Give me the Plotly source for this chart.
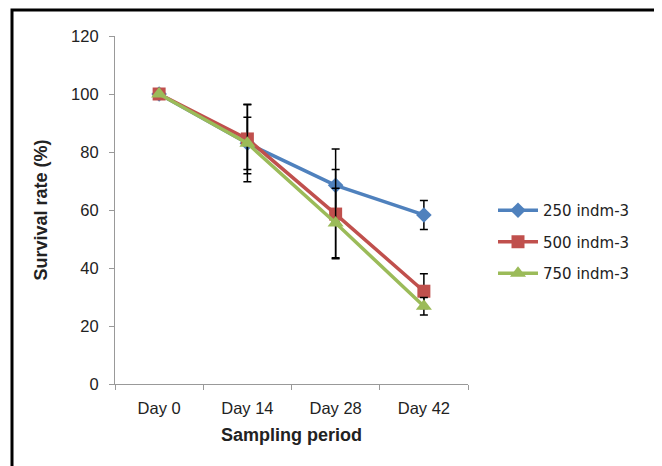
import plotly.graph_objects as go

categories = ["Day 0", "Day 14", "Day 28", "Day 42"]
names = ["250 indm-3", "500 indm-3", "750 indm-3"]
s250 = [100, 83, 68.5, 58.3]
s500 = [100, 84.5, 58.6, 32]
s750 = [100, 83, 55.5, 26.8]
e250 = [0, 9, 12.5, 5]
e500 = [0, 12, 15.4, 6]
e750 = [0, 13.3, 12, 3]
colors = ["#4F81BD", "#C0504D", "#9BBB59"]
symbols = ["diamond", "square", "triangle-up"]
sizes = [12, 13, 14]

font_main = "Liberation Sans Narrow, Liberation Sans, Arial"

L, T, R, B = 107, 28, 460, 376  # plot area in figure px
W = R - L
H = B - T

fig = go.Figure()
for i, (vals, errs) in enumerate([(s250, e250), (s500, e500), (s750, e750)]):
    fig.add_trace(go.Scatter(
        x=categories, y=vals, name=names[i], mode="lines+markers",
        legendgroup=f"g{i}",
        line=dict(color=colors[i], width=3.5),
        marker=dict(symbol=symbols[i], size=sizes[i], color=colors[i]),
        error_y=dict(type="data", array=errs, visible=True, color="black",
                     thickness=1.5, width=4),
    ))

fig.update_layout(
    width=662, height=466,
    margin=dict(l=L, r=662 - R, t=T, b=466 - B),
    paper_bgcolor="white", plot_bgcolor="white",
    font=dict(family=font_main, size=16.5, color="#222"),
    legend=dict(x=(485 - L) / W, y=(B - 234) / H, yanchor="middle", xanchor="left",
                font=dict(family="DejaVu Sans, Liberation Sans", size=15, color="#222"),
                tracegroupgap=9, itemwidth=40, bgcolor="rgba(0,0,0,0)"),
    showlegend=True,
)
fig.update_xaxes(
    type="category", range=[-0.5, 3.5], showline=True, linecolor="#999",
    linewidth=1.2, ticks="outside", tickson="boundaries", ticklen=5,
    tickcolor="#999", showgrid=False, zeroline=False, ticklabelstandoff=9,
    title=dict(text="<b>Sampling period</b>", font=dict(size=18), standoff=12),
)
fig.update_yaxes(
    range=[0, 120], dtick=20, showline=True, linecolor="#999", linewidth=1.2,
    ticks="outside", ticklen=5, tickcolor="#999", showgrid=False, zeroline=False,
    ticklabelstandoff=7,
    title=dict(text="<b>Survival rate (%)</b>", font=dict(size=18), standoff=18),
)
# outer frame
fig.add_shape(type="rect", xref="paper", yref="paper",
              x0=(4 - L) / W, x1=(648 - L) / W,
              y0=(B - 480) / H, y1=(B - 2) / H,
              line=dict(color="black", width=3), fillcolor="rgba(0,0,0,0)")

fig.write_html("out.html")
